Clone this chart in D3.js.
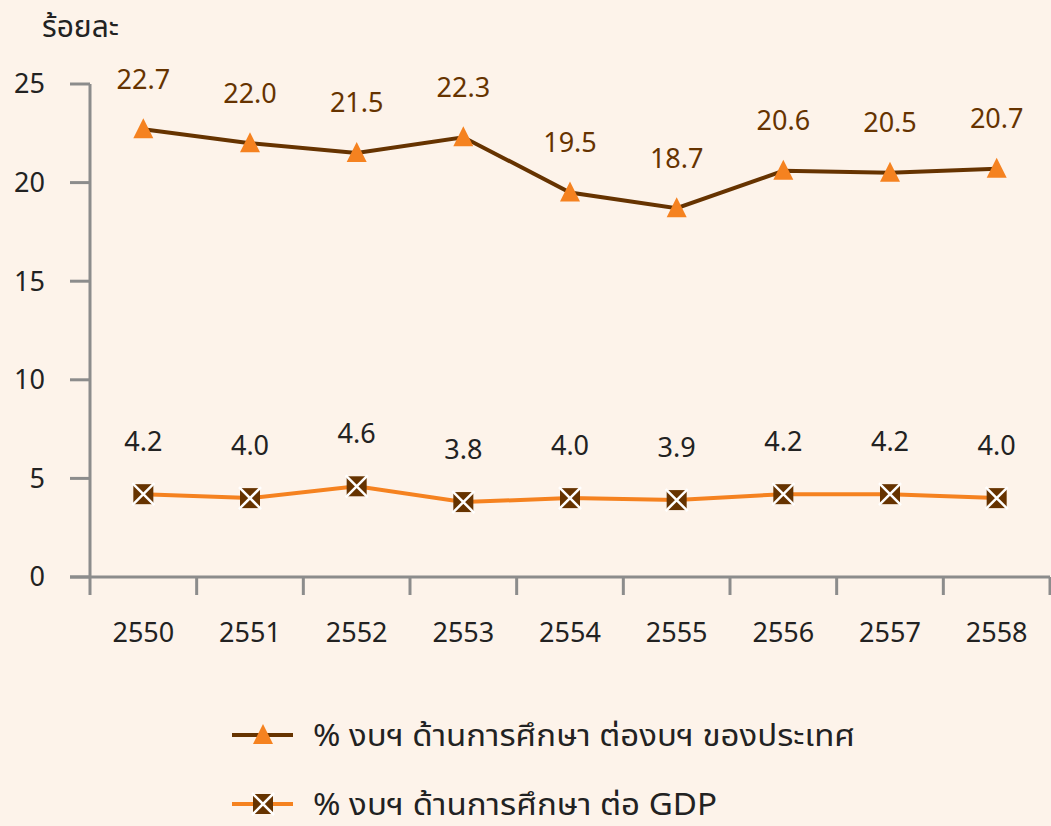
<!DOCTYPE html>
<html>
<head>
    <meta charset="utf-8">
    <title>งบประมาณด้านการศึกษา</title>
    <script src="https://d3js.org/d3.v7.min.js"></script>
    <style>
        body { margin: 0; background: #fdf3ea; }
        svg { display: block; font-family: "Noto Sans Thai", "Noto Sans", "DejaVu Sans", sans-serif; }
    </style>
</head>
<body>
<svg id="chart" width="1051" height="826"></svg>
<script>
    var years = ["2550", "2551", "2552", "2553", "2554", "2555", "2556", "2557", "2558"];
    var budgetShare = [22.7, 22.0, 21.5, 22.3, 19.5, 18.7, 20.6, 20.5, 20.7];
    var gdpShare = [4.2, 4.0, 4.6, 3.8, 4.0, 3.9, 4.2, 4.2, 4.0];
    var yTicks = [0, 5, 10, 15, 20, 25];
    var seriesNames = ["% งบฯ ด้านการศึกษา ต่องบฯ ของประเทศ", "% งบฯ ด้านการศึกษา ต่อ GDP"];

    var svg = d3.select("#chart");
    var plotLeft = 90, plotRight = 1050, plotTop = 84, plotBottom = 577;

    var x = d3.scaleBand().domain(years).range([plotLeft, plotRight]);
    var y = d3.scaleLinear().domain([0, 25]).range([plotBottom, plotTop]);

    svg.append("rect").attr("width", 1051).attr("height", 826).attr("fill", "#fdf3ea");

    // axes
    var axisColor = "#8c8c8c";
    svg.append("line").attr("x1", plotLeft).attr("x2", plotLeft).attr("y1", plotTop).attr("y2", plotBottom + 18)
        .attr("stroke", axisColor).attr("stroke-width", 3);
    svg.append("line").attr("x1", plotLeft - 20).attr("x2", plotRight).attr("y1", plotBottom).attr("y2", plotBottom)
        .attr("stroke", axisColor).attr("stroke-width", 3);

    svg.selectAll(".ytick").data(yTicks).enter().append("line")
        .attr("x1", plotLeft - 20).attr("x2", plotLeft)
        .attr("y1", function(d) { return y(d); }).attr("y2", function(d) { return y(d); })
        .attr("stroke", axisColor).attr("stroke-width", 3);

    svg.selectAll(".ylabel").data(yTicks).enter().append("text")
        .attr("x", 45).attr("y", function(d) { return y(d); })
        .attr("dy", "0.35em").attr("text-anchor", "end")
        .attr("font-size", 27).attr("fill", "#222")
        .text(function(d) { return d; });

    svg.selectAll(".xtick").data(years).enter().append("line")
        .attr("x1", function(d) { return x(d) + x.bandwidth(); })
        .attr("x2", function(d) { return x(d) + x.bandwidth(); })
        .attr("y1", plotBottom).attr("y2", plotBottom + 18)
        .attr("stroke", axisColor).attr("stroke-width", 3);

    svg.selectAll(".xlabel").data(years).enter().append("text")
        .attr("x", function(d) { return x(d) + x.bandwidth() / 2; })
        .attr("y", 633).attr("dy", "0.35em").attr("text-anchor", "middle")
        .attr("font-size", 27).attr("fill", "#222")
        .text(function(d) { return d; });

    svg.append("text").attr("x", 42).attr("y", 26).attr("dy", "0.35em")
        .attr("font-size", 30).attr("fill", "#222").text("ร้อยละ");

    var cx = function(d, i) { return x(years[i]) + x.bandwidth() / 2; };
    var line = d3.line().x(function(d, i) { return cx(d, i); }).y(function(d) { return y(d); });

    var brown = "#663300", orange = "#f58220";

    svg.append("path").datum(budgetShare).attr("d", line)
        .attr("fill", "none").attr("stroke", brown).attr("stroke-width", 4);
    svg.append("path").datum(gdpShare).attr("d", line)
        .attr("fill", "none").attr("stroke", orange).attr("stroke-width", 4);

    function triangle(g, px, py) {
        g.append("path")
            .attr("d", "M" + px + "," + (py - 11) + "L" + (px + 10) + "," + (py + 9) + "L" + (px - 10) + "," + (py + 9) + "Z")
            .attr("fill", orange);
    }
    function boxX(g, px, py) {
        g.append("rect").attr("x", px - 10).attr("y", py - 10).attr("width", 20).attr("height", 20)
            .attr("fill", brown);
        g.append("path")
            .attr("d", "M" + (px - 11) + "," + (py - 11) + "L" + (px + 11) + "," + (py + 11) +
                       "M" + (px + 11) + "," + (py - 11) + "L" + (px - 11) + "," + (py + 11))
            .attr("stroke", "#fff").attr("stroke-width", 2.5);
    }

    var m1 = svg.append("g");
    budgetShare.forEach(function(d, i) { triangle(m1, cx(d, i), y(d)); });
    var m2 = svg.append("g");
    gdpShare.forEach(function(d, i) { boxX(m2, cx(d, i), y(d)); });

    svg.selectAll(".lab1").data(budgetShare).enter().append("text")
        .attr("x", cx).attr("y", function(d) { return y(d) - 50; })
        .attr("dy", "0.35em").attr("text-anchor", "middle")
        .attr("font-size", 27).attr("fill", brown)
        .text(function(d) { return d.toFixed(1); });

    svg.selectAll(".lab2").data(gdpShare).enter().append("text")
        .attr("x", cx).attr("y", function(d) { return y(d) - 53; })
        .attr("dy", "0.35em").attr("text-anchor", "middle")
        .attr("font-size", 27).attr("fill", "#222")
        .text(function(d) { return d.toFixed(1); });

    // legend
    var legend = svg.append("g");
    var ly = [735, 804];
    legend.append("line").attr("x1", 232).attr("x2", 293).attr("y1", ly[0]).attr("y2", ly[0])
        .attr("stroke", brown).attr("stroke-width", 4);
    triangle(legend, 263, ly[0]);
    legend.append("line").attr("x1", 232).attr("x2", 293).attr("y1", ly[1]).attr("y2", ly[1])
        .attr("stroke", orange).attr("stroke-width", 4);
    boxX(legend, 263, ly[1]);
    legend.selectAll("text").data(seriesNames).enter().append("text")
        .attr("x", 313).attr("y", function(d, i) { return ly[i]; })
        .attr("dy", "0.35em").attr("font-size", 30).attr("fill", "#222")
        .attr("textLength", function(d, i) { return i === 0 ? 542 : 404; })
        .attr("lengthAdjust", "spacingAndGlyphs")
        .text(function(d) { return d; });
</script>
</body>
</html>
